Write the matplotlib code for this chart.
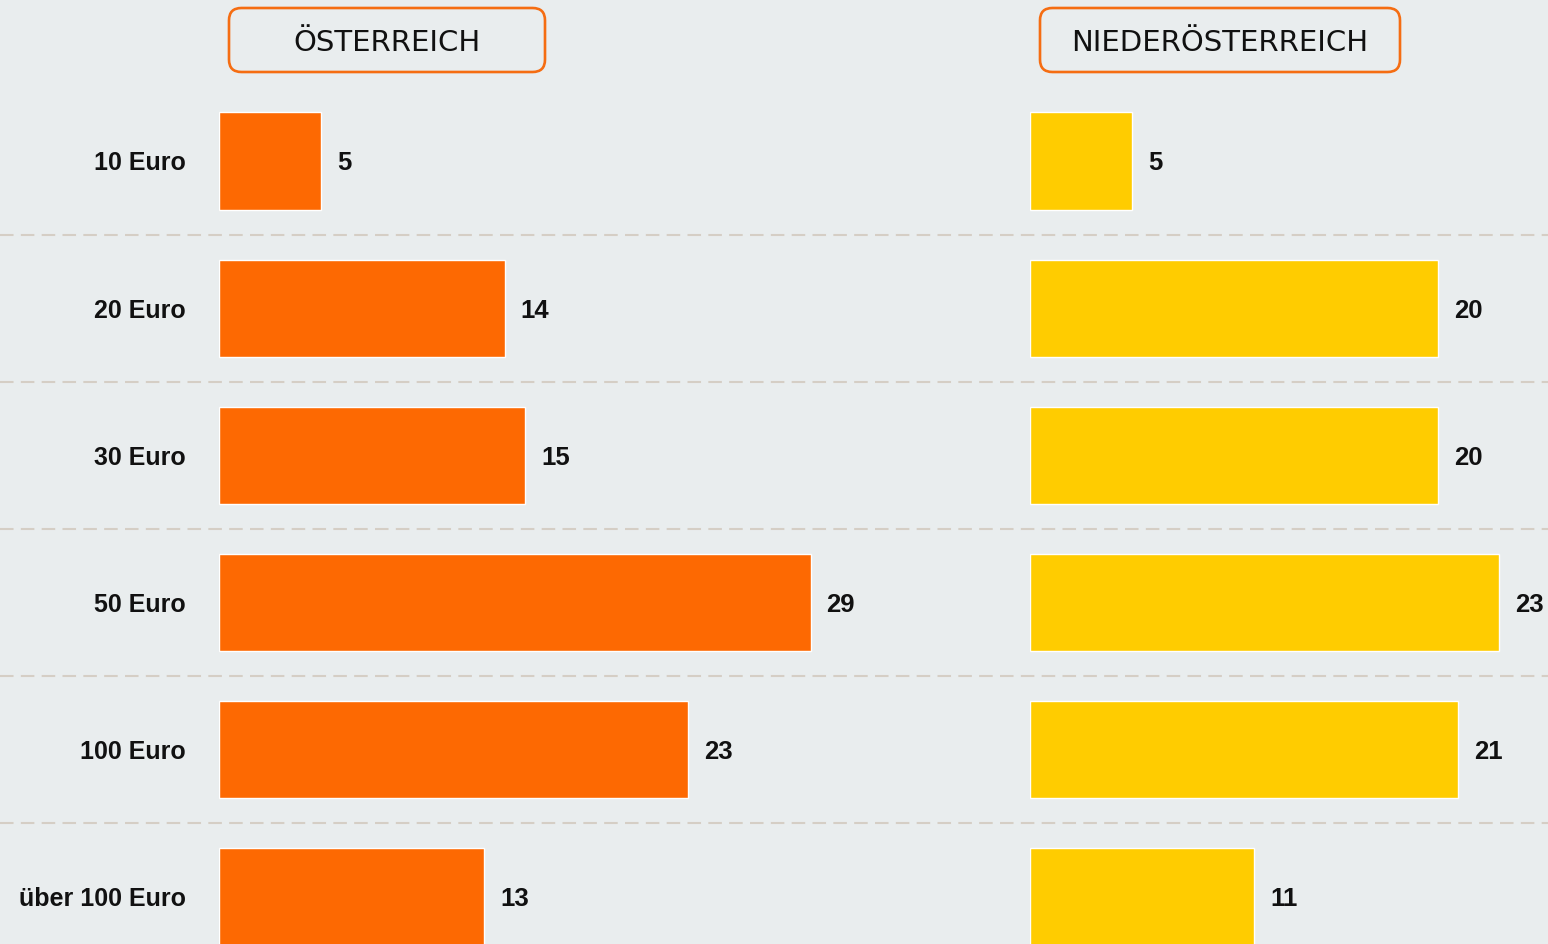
import matplotlib
matplotlib.use("Agg")
import matplotlib.pyplot as plt
from matplotlib.patches import FancyBboxPatch
import numpy as np

# datos
kategorien = ["10 Euro", "20 Euro", "30 Euro", "50 Euro", "100 Euro", "über 100 Euro"]
oesterreich = [5, 14, 15, 29, 23, 13]
niederoesterreich = [5, 20, 20, 23, 21, 11]
titel = ["ÖSTERREICH", "NIEDERÖSTERREICH"]

fondo = "#e9edee"
naranja = "#fd6902"
amarillo = "#ffcc00"

W, H = 1548, 944
fig = plt.figure(figsize=(W / 100, H / 100), dpi=100, facecolor=fondo)

# filas: centro de la primera fila en y=161 px, separacion 147.2 px
paso = 147.2
y_top = -161 / paso
y_bot = (H - 161) / paso
escala = 20.4  # px por unidad

# eje de fondo para las lineas punteadas
ax_bg = fig.add_axes([0, 0, 1, 1])
ax_bg.set_facecolor(fondo)
ax_bg.set_xlim(0, 1)
ax_bg.set_ylim(y_bot, y_top)
for i in range(len(kategorien) - 1):
    ax_bg.axhline(i + 0.5, color="#d5cec5", lw=1.5, linestyle=(0, (6.5, 3.5)))
ax_bg.axis("off")


def panel(x0_px, ancho_px, valores, color):
    ax = fig.add_axes([x0_px / W, 0, ancho_px / W, 1])
    ax.patch.set_alpha(0)
    y = np.arange(len(valores))
    ax.barh(y, valores, height=0.66, color=color, edgecolor="white", linewidth=1)
    for yi, v in zip(y, valores):
        ax.annotate(str(v), (v, yi), xytext=(11.5, 0), textcoords="offset points",
                    ha="left", va="center_baseline", fontsize=18.5, fontweight="bold",
                    family="Liberation Sans", color="#111111", annotation_clip=False)
    ax.set_xlim(0, ancho_px / escala)
    ax.set_ylim(y_bot, y_top)
    for s in ax.spines.values():
        s.set_visible(False)
    ax.set_xticks([])
    return ax


ax1 = panel(219, 760, oesterreich, naranja)
ax1.set_yticks(range(len(kategorien)), kategorien)
ax1.tick_params(axis="y", length=0, pad=24)
for t in ax1.get_yticklabels():
    t.set_fontsize(18)
    t.set_fontweight("bold")
    t.set_family("Liberation Sans")
    t.set_color("#111111")

ax2 = panel(1030, W - 1030, niederoesterreich, amarillo)
ax2.set_yticks([])

# cajas de titulo
cajas = [(229, 8, 316, 64), (1040, 8, 360, 64)]
for (bx, by, bw, bh), txt in zip(cajas, titel):
    caja = FancyBboxPatch((bx / W, 1 - (by + bh) / H), bw / W, bh / H,
                          boxstyle="round,pad=0,rounding_size=0.008",
                          transform=fig.transFigure, facecolor="none",
                          edgecolor="#f56d12", linewidth=1.9, mutation_aspect=W / H)
    fig.patches.append(caja)
    fig.text((bx + bw / 2) / W, 1 - (by + bh / 2 + 3) / H, txt, ha="center", va="center",
             fontsize=21, color="#111111", family="DejaVu Sans")

fig.savefig("out.png", dpi=100, facecolor=fondo)
